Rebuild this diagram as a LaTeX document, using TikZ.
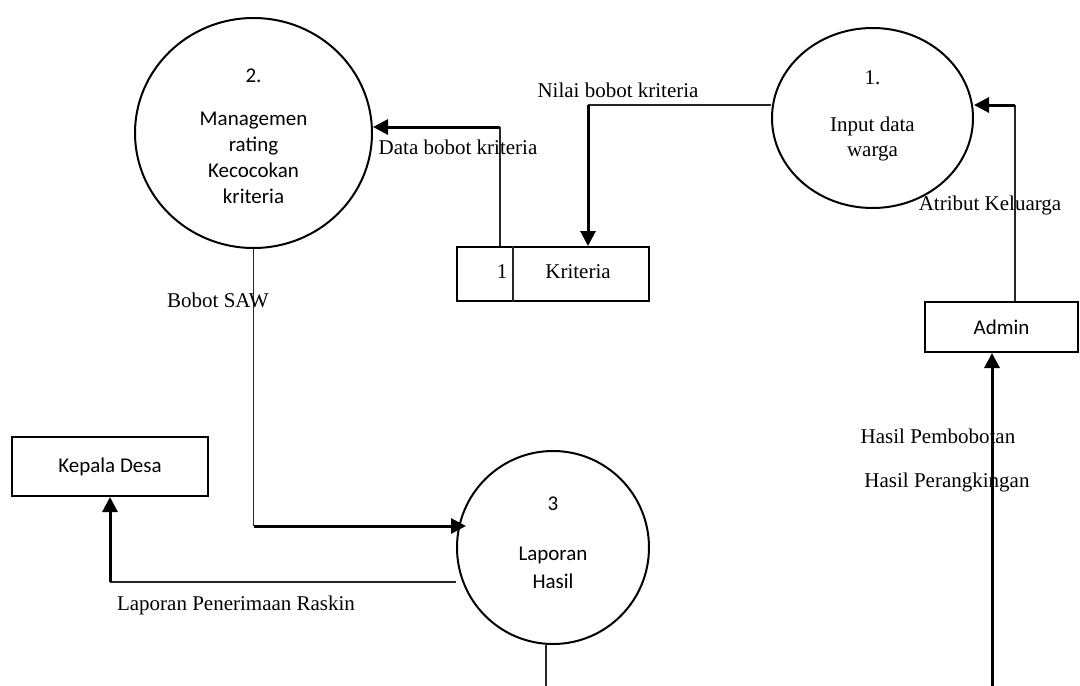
\documentclass[tikz,border=0pt]{standalone}
\usepackage{fontspec}
\setmainfont{Liberation Serif}
\newfontfamily\calibri{Carlito}
\usetikzlibrary{arrows.meta,shapes.geometric}

\begin{document}
\begin{tikzpicture}[x=1pt,y=-1pt,
  serif/.style={font=\fontsize{21}{25}\selectfont},
  sans/.style={font=\calibri\fontsize{21}{26}\selectfont},
  process/.style={draw,line width=2pt,ellipse,inner sep=0pt},
  proctext/.style={align=center,inner sep=0pt},
  entity/.style={draw,line width=2pt,rectangle,inner sep=0pt,sans},
  datastore/.style={draw,line width=2pt,rectangle,inner sep=0pt},
  thinflow/.style={line width=1.1pt,draw=black!85},
  thickflow/.style={line width=3pt,-{Triangle[length=15pt,width=15pt]}}]

\useasboundingbox (0,0) rectangle (1080,686);

% processes
\node[process,minimum width=237,minimum height=230] (p2) at (253.5,133) {};
\node[proctext,sans,yshift=-3.5pt] (p2text) at (p2)
  {2.\\[17pt]Managemen\\rating\\Kecocokan\\kriteria};
\node[process,minimum width=201,minimum height=180] (p1) at (872.5,118) {};
\node[proctext,serif,yshift=2pt] (p1text) at (p1)
  {1.\\[22pt]Input data\\warga};
\node[process,minimum width=192,minimum height=193] (p3) at (553,547.5) {};
\node[proctext,sans,font=\calibri\fontsize{21}{28}\selectfont,yshift=4.5pt] (p3text) at (p3)
  {3\\[22pt]Laporan\\Hasil};

% external entities
\node[entity,minimum width=153,minimum height=50] (admin) at (1001.5,327) {Admin};
\node[entity,minimum width=196,minimum height=59] (kades) at (110,466.5) {Kepala Desa};

% data store
\node[datastore,minimum width=192,minimum height=54] (store) at (553,274) {};
\draw[thinflow] ([xshift=57pt]store.north west) -- ([xshift=57pt]store.south west);
\node[serif] (storeid) at (502,272) {1};
\node[serif] (storename) at (578,272) {Kriteria};

% bend points and free ends of the flows
\coordinate (dbk) at (500,127);
\coordinate (nbk) at (588,105);
\coordinate (atr) at (1015,105);
\coordinate (hb) at (992,686);
\coordinate (saw) at (253.5,526);
\coordinate (lpr) at (110,582);
\coordinate (p3out) at (546,686);

% Kriteria -> process 2
\draw[thinflow] (dbk |- store.north) -- (dbk);
\draw[thickflow] (dbk) -- (dbk -| p2.east);

% process 1 -> Kriteria
\draw[thinflow] (nbk -| p1.west) -- (nbk);
\draw[thickflow] (nbk) -- (nbk |- store.north);

% Admin -> process 1
\draw[thinflow] (atr |- admin.north) -- (atr);
\draw[thickflow] (atr) -- (atr -| p1.east);

% results -> Admin
\draw[thickflow] (hb) -- (hb |- admin.south);

% process 2 -> process 3
\draw[thinflow] (p2.south) -- (saw);
\draw[thickflow] (saw) -- ([xshift=10pt]saw -| p3.west);

% process 3 -> Kepala Desa
\draw[thinflow] (lpr -| p3.west) -- (lpr);
\draw[thickflow] (lpr) -- (kades.south);

% outgoing line below process 3
\draw[thinflow] (p3out |- p3.south) -- (p3out);

% flow labels
\node[serif] (lnbk) at (618,90) {Nilai bobot kriteria};
\node[serif] (ldbk) at (458,147) {Data bobot kriteria};
\node[serif] (latr) at (990,205) {Atribut Keluarga};
\node[serif] (lsaw) at (218,300) {Bobot SAW};
\node[serif] (llpr) at (236,605) {Laporan Penerimaan Raskin};
\node[serif] (lhp) at (938,436) {Hasil Pembobotan};
\node[serif] (lhr) at (947,482) {Hasil Perangkingan};
\end{tikzpicture}
\end{document}
